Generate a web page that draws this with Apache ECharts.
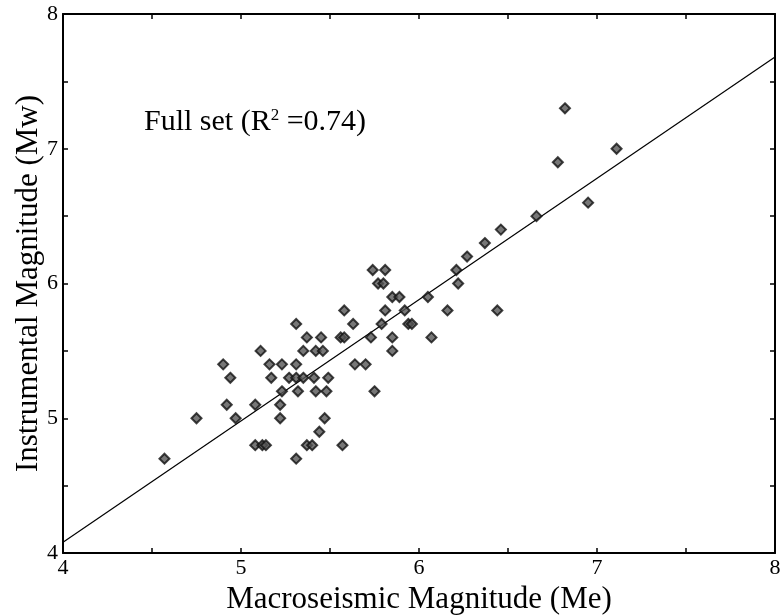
<!DOCTYPE html>
<html>
<head>
<meta charset="utf-8">
<script src="https://cdn.jsdelivr.net/npm/echarts@6/dist/echarts.min.js"></script>
<style>html,body{margin:0;padding:0;background:#fff}#c{width:782px;height:615px}</style>
</head>
<body>
<div id="c"></div>
<script>
// Macroseismic magnitude (Me) of each event
const meValues = [
  4.57, 4.75, 4.90, 4.92, 4.94, 4.97,
  5.08, 5.08, 5.11, 5.12, 5.14, 5.16, 5.17, 5.22, 5.22, 5.23, 5.23,
  5.27, 5.31, 5.31, 5.31, 5.31, 5.32, 5.35, 5.35, 5.37, 5.37, 5.40, 5.41, 5.42, 5.42,
  5.44, 5.45, 5.46, 5.47, 5.48, 5.49, 5.56, 5.57, 5.58, 5.58, 5.63, 5.64, 5.70, 5.73,
  5.74, 5.75, 5.77, 5.79, 5.80, 5.81, 5.81, 5.85, 5.85, 5.85, 5.89, 5.92, 5.94, 5.96,
  6.05, 6.07, 6.16, 6.21, 6.22, 6.27, 6.37, 6.44, 6.46, 6.66, 6.78, 6.82, 6.95, 7.11
];
// Instrumental magnitude (Mw) of each event
const mwValues = [
  4.7, 5.0, 5.4, 5.1, 5.3, 5.0,
  5.1, 4.8, 5.5, 4.8, 4.8, 5.4, 5.3, 5.1, 5.0, 5.4, 5.2,
  5.3, 5.7, 5.4, 5.3, 4.7, 5.2, 5.5, 5.3, 5.6, 4.8, 4.8, 5.3, 5.5, 5.2,
  4.9, 5.6, 5.5, 5.0, 5.2, 5.3, 5.6, 4.8, 5.6, 5.8, 5.7, 5.4, 5.4, 5.6,
  6.1, 5.2, 6.0, 5.7, 6.0, 6.1, 5.8, 5.9, 5.6, 5.5, 5.9, 5.8, 5.7, 5.7,
  5.9, 5.6, 5.8, 6.1, 6.0, 6.2, 6.3, 5.8, 6.4, 6.5, 6.9, 7.3, 6.6, 7.0
];
// Regression line end points
const fitX = [4, 8];
const fitY = [4.08, 7.68];
const annotation = 'Full set (R';
const r2 = '0.74';

const points = meValues.map((v, i) => [v, mwValues[i]]);
const fitLine = fitX.map((v, i) => [v, fitY[i]]);

const FONT = '"Liberation Serif", "DejaVu Serif", serif';
const intLabel = v => (Math.abs(v - Math.round(v)) < 1e-9 ? String(Math.round(v)) : '');
const axisLine = { show: true, lineStyle: { color: '#000', width: 2 } };
const tick = { show: true, inside: true, length: 5, lineStyle: { color: '#000', width: 1.5 } };

const chart = echarts.init(document.getElementById('c'), null, { renderer: 'canvas' });
chart.setOption({
  backgroundColor: '#fff',
  animation: false,
  grid: { left: 63, right: 7, top: 14, bottom: 62, containLabel: false, outerBoundsMode: 'none' },
  xAxis: [
    {
      type: 'value', min: 4, max: 8, interval: 0.5, position: 'bottom',
      name: 'Macroseismic Magnitude (Me)', nameLocation: 'middle', nameGap: 31,
      nameTextStyle: { fontFamily: FONT, fontSize: 31, color: '#000' },
      axisLine, axisTick: tick, splitLine: { show: false },
      axisLabel: { formatter: intLabel, fontFamily: FONT, fontSize: 22, color: '#000', margin: 4 }
    },
    {
      type: 'value', min: 4, max: 8, interval: 0.5, position: 'top',
      axisLine, axisTick: tick, splitLine: { show: false }, axisLabel: { show: false }
    }
  ],
  yAxis: [
    {
      type: 'value', min: 4, max: 8, interval: 0.5, position: 'left',
      name: 'Instrumental Magnitude (Mw)', nameLocation: 'middle', nameGap: 19,
      nameMoveOverlap: false,
      nameTextStyle: { fontFamily: FONT, fontSize: 31, color: '#000' },
      axisLine, axisTick: tick, splitLine: { show: false },
      axisLabel: { formatter: intLabel, fontFamily: FONT, fontSize: 22, color: '#000', margin: 5 }
    },
    {
      type: 'value', min: 4, max: 8, interval: 0.5, position: 'right',
      axisLine, axisTick: tick, splitLine: { show: false }, axisLabel: { show: false }
    }
  ],
  series: [
    {
      type: 'line', data: fitLine, symbol: 'none', silent: true,
      lineStyle: { color: '#000', width: 1.2 }, z: 2
    },
    {
      type: 'scatter', data: points, symbol: 'diamond', symbolSize: 10,
      itemStyle: { color: '#555', borderColor: '#111', borderWidth: 2 }, z: 3
    }
  ],
  graphic: [
    {
      type: 'text', left: 144, top: 107,
      style: {
        text: '{a|' + annotation + '}{s|2}{a| =' + r2 + ')}',
        rich: {
          a: { fontFamily: FONT, fontSize: 30, fill: '#000', color: '#000' },
          s: { fontFamily: FONT, fontSize: 17, fill: '#000', color: '#000', verticalAlign: 'top' }
        }
      }
    }
  ]
});
</script>
</body>
</html>
